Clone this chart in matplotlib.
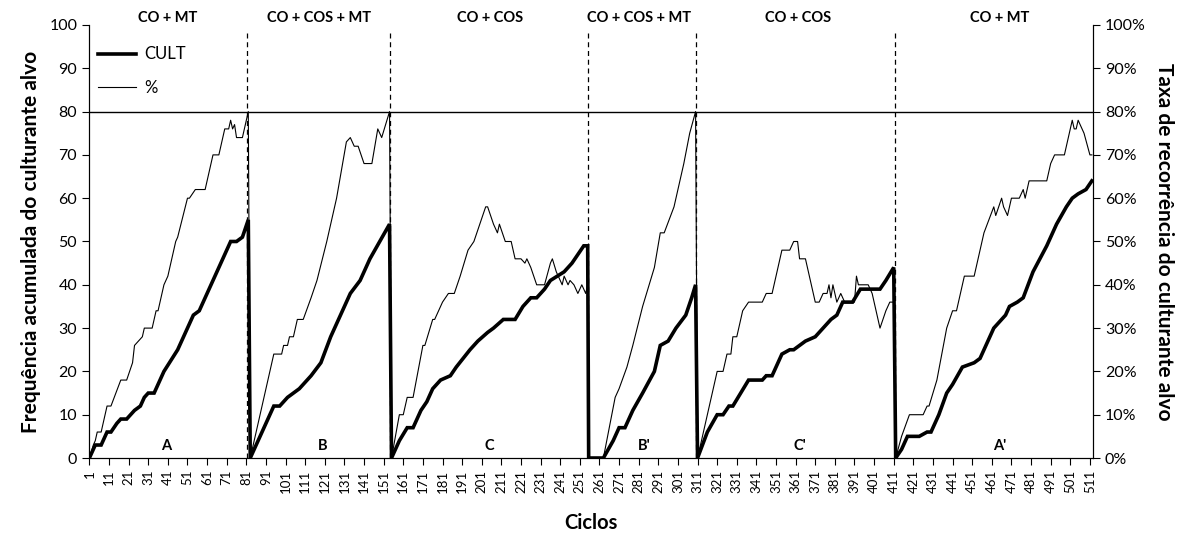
import numpy as np
import matplotlib.pyplot as plt
from matplotlib.ticker import FuncFormatter

plt.rcParams['font.family'] = ['Lato', 'DejaVu Sans']

# vertices of the CULT curve (cumulative frequency), cycle -> value
cult_ciclo = [1, 3, 4, 7, 9, 10, 12, 15, 17, 20, 24, 27, 29, 31, 34, 39, 46, 54, 57, 64, 73, 76, 79, 82,
              83, 95, 98, 102, 105, 108, 114, 119, 124, 129, 134, 139, 144, 149, 154,
              155, 159, 163, 166, 170, 173, 176, 180, 185, 188, 195, 199, 204, 207, 212, 218, 222, 226, 229,
              233, 236, 243, 247, 250, 253, 255,
              255.5, 263, 268, 271, 274, 278, 283, 289, 292, 296, 300, 305, 308, 310,
              311, 316, 321, 324, 327, 329, 333, 337, 344, 346, 349, 354, 358, 360, 366, 371, 373, 379, 382,
              385, 390, 394, 404, 407, 411,
              412, 415, 418, 424, 428, 430, 434, 438, 441, 446, 452, 455, 462, 468, 470, 474, 477, 482, 489,
              494, 499, 502, 505, 509, 512]
cult_valor = [0, 2, 3, 3, 5, 6, 6, 8, 9, 9, 11, 12, 14, 15, 15, 20, 25, 33, 34, 41, 50, 50, 51, 55,
              0, 12, 12, 14, 15, 16, 19, 22, 28, 33, 38, 41, 46, 50, 54,
              0, 4, 7, 7, 11, 13, 16, 18, 19, 21, 25, 27, 29, 30, 32, 32, 35, 37, 37,
              39, 41, 43, 45, 47, 49, 49,
              0, 0, 4, 7, 7, 11, 15, 20, 26, 27, 30, 33, 37, 40,
              0, 6, 10, 10, 12, 12, 15, 18, 18, 19, 19, 24, 25, 25, 27, 28, 29, 32, 33,
              36, 36, 39, 39, 41, 44,
              0, 2, 5, 5, 6, 6, 10, 15, 17, 21, 22, 23, 30, 33, 35, 36, 37, 43, 49,
              54, 58, 60, 61, 62, 64]

# vertices of the recurrence rate curve (%)
taxa_ciclo = [1, 3, 4, 5, 7, 10, 12, 17, 20, 23, 24, 28, 29, 33, 35, 36, 39, 41, 45, 46, 51, 52, 55, 60,
              64, 67, 70, 72, 73, 74, 75, 76, 79, 81, 82,
              83, 95, 99, 100, 102, 103, 105, 107, 110, 114, 117, 122, 127, 132, 134, 136, 138, 141, 145,
              148, 150, 152, 154,
              155, 159, 161, 163, 166, 171, 172, 176, 177, 181, 184, 187, 190, 194, 197, 200, 203, 204,
              207, 209, 210, 213, 216, 218, 221, 223, 224, 226, 229, 233, 236, 237, 239, 242, 243, 245,
              246, 248, 250, 252, 254, 255,
              255.5, 263, 266, 269, 271, 275, 278, 283, 289, 292, 294, 299, 300, 304, 307, 310,
              311, 321, 324, 326, 328, 329, 331, 334, 337, 344, 346, 349, 354, 358, 360, 362, 363, 366,
              371, 373, 375, 377, 378, 379, 380, 382, 384, 386, 391, 392, 393, 398, 400, 404, 407, 409, 411,
              412, 415, 419, 426, 428, 429, 433, 438, 441, 443, 447, 452, 457, 462, 463, 466, 467, 469,
              471, 475, 477, 478, 480, 489, 491, 493, 498, 502, 503, 504, 505, 508, 511, 512]
taxa_valor = [0, 3, 4, 6, 6, 12, 12, 18, 18, 22, 26, 28, 30, 30, 34, 34, 40, 42, 50, 51, 60, 60, 62, 62,
              70, 70, 76, 76, 78, 76, 77, 74, 74, 78, 80,
              0, 24, 24, 26, 26, 28, 28, 32, 32, 37, 41, 50, 60, 73, 74, 72, 72, 68, 68,
              76, 74, 77, 80,
              0, 10, 10, 14, 14, 26, 26, 32, 32, 36, 38, 38, 42, 48, 50, 54, 58, 58,
              54, 52, 54, 50, 50, 46, 46, 45, 46, 44, 40, 40, 45, 46, 43, 40, 42, 40,
              41, 40, 38, 40, 38, 40,
              0, 0, 7, 14, 16, 21, 26, 35, 44, 52, 52, 58, 60, 68, 75, 80,
              0, 20, 20, 24, 24, 28, 28, 34, 36, 36, 38, 38, 48, 48, 50, 50, 46, 46,
              36, 36, 38, 38, 40, 37, 40, 36, 38, 36, 36, 42, 40, 40, 38, 30, 34, 36, 36,
              0, 5, 10, 10, 12, 12, 18, 30, 34, 34, 42, 42, 52, 58, 56, 60, 58, 56,
              60, 60, 62, 60, 64, 64, 68, 70, 70, 78, 76, 76, 78, 75, 70, 70]

# phase boundaries and labels
limites = [81.4, 154.3, 255.2, 310.2, 411.6]
fases = ['CO + MT', 'CO + COS + MT', 'CO + COS', 'CO + COS + MT', 'CO + COS', 'CO + MT']
fases_pos = [41, 118, 205, 281, 362, 465]
letras = ['A', 'B', 'C', "B'", "C'", "A'"]
letras_pos = [40, 120, 205, 284, 363, 465]
ticks_x = list(range(1, 512, 10))

fig = plt.figure(figsize=(11.85, 5.36), dpi=100)
ax = fig.add_axes([0.0751, 0.1455, 0.8473, 0.8079])
ax2 = ax.twinx()

l1, = ax.plot(cult_ciclo, cult_valor, color='black', lw=2.6, solid_joinstyle='miter', label='CULT', zorder=4)
l2, = ax2.plot(taxa_ciclo, taxa_valor, color='black', lw=0.8, label='%', zorder=3)

ax.axhline(80, color='black', lw=1.0)
for b in limites:
    ax.plot([b, b], [0, 98.4], color='black', lw=0.9, ls=(0, (4, 3)))

for txt, x in zip(fases, fases_pos):
    ax.text(x, 101.6, txt, ha='center', va='center', fontsize=10.5, fontweight='bold', clip_on=False)
for txt, x in zip(letras, letras_pos):
    ax.text(x, 2.8, txt, ha='center', va='center', fontsize=10.5, fontweight='bold')

ax.set_xlim(0.8, 512.6)
ax.set_ylim(0, 100)
ax2.set_ylim(0, 100)
ax.set_xticks(ticks_x)
ax.set_xticklabels([str(t) for t in ticks_x], rotation=90, fontsize=9.5)
ax.set_yticks(range(0, 101, 10))
ax.tick_params(axis='y', labelsize=11.5, length=5)
ax.tick_params(axis='x', length=5)
ax2.set_yticks(range(0, 101, 10))
ax2.yaxis.set_major_formatter(FuncFormatter(lambda v, p: f'{int(v)}%'))
ax2.tick_params(axis='y', labelsize=11.5, length=5)

for a in (ax, ax2):
    a.spines['top'].set_visible(False)

ax.set_xlabel('Ciclos', fontsize=14.5, fontweight='bold', labelpad=14)
ax.set_ylabel('Frequência acumulada do culturante alvo', fontsize=15, fontweight='bold', labelpad=6)
ax2.set_ylabel('Taxa de recorrência do culturante alvo', fontsize=15, fontweight='bold',
               rotation=-90, labelpad=20)

ax.legend(handles=[l1, l2], loc='upper left', bbox_to_anchor=(-0.006, 0.985), frameon=False,
          fontsize=12, handlelength=2.3, labelspacing=1.05, handletextpad=0.45)

fig.savefig('out.png', dpi=100)
